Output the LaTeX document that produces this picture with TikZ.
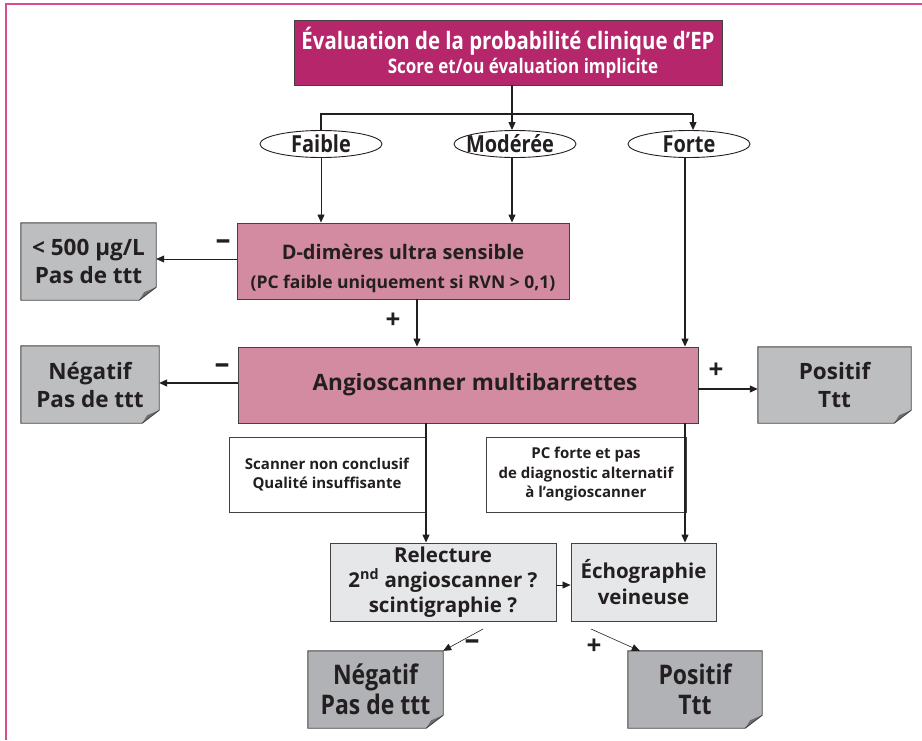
\documentclass[tikz,border=0pt]{standalone}
\usepackage{fontspec}
\setmainfont{Open Sans}
\newfontfamily\cond[FakeStretch=0.85]{Open Sans}
\usetikzlibrary{arrows.meta,calc,shapes.geometric}
\definecolor{framec}{HTML}{D64E8F}
\definecolor{topc}{HTML}{B5266A}
\definecolor{pinkc}{HTML}{D38BA1}
\definecolor{grayc}{HTML}{BCBEC0}
\definecolor{lightc}{HTML}{E6E7E8}
\definecolor{botc}{HTML}{B0B2B5}
\definecolor{inkc}{HTML}{231F20}
\definecolor{foldc}{HTML}{6D6E71}
\newcommand\mkbox[7]{\node[#6, minimum width={(#4-#2)*1pt}, minimum height={(#5-#3)*1pt}] (#1) at ({(#2+#4)/2},{(#3+#5)/2}) {#7};}
\newcommand\foldbox[1]{%
  \fill[white] ($(#1.south east)+(0,-13)$) -- (#1.south east) -- ($(#1.south east)+(-17,0)$) -- cycle;
  \fill[foldc] ($(#1.south east)+(0,-13)$) -- ($(#1.south east)+(-17,0)$) -- ($(#1.south east)+(-12,-8)$) -- cycle;
  \draw[boxline] (#1.north west) -- (#1.north east) -- ($(#1.south east)+(0,-13)$) -- ($(#1.south east)+(-17,0)$) -- (#1.south west) -- cycle;}
\tikzset{
  boxline/.style={draw=inkc!85, line width=0.9pt},
  box/.style={boxline, inner sep=0pt, align=center, font=\bfseries, text=inkc},
  resbox/.style={inner sep=0pt, align=center, font=\bfseries\fontsize{22.5}{28}\selectfont, text=inkc, fill=grayc},
  botbox/.style={inner sep=0pt, align=center, font=\cond\bfseries\fontsize{27}{30}\selectfont, text=inkc, fill=botc},
  oval/.style={ellipse, draw=inkc, line width=0.9pt, inner sep=0pt, minimum width=122pt, minimum height=27pt, font=\cond\bfseries\fontsize{23.5}{23.5}\selectfont, text=inkc, fill=white},
  ln/.style={draw=inkc, line width=1.1pt},
  arr/.style={ln, -{Triangle[length=8pt,width=7pt]}},
  thinarr/.style={draw=inkc, line width=0.6pt, -{Triangle[length=8pt,width=7pt]}},
  minus/.style={font=\bfseries\fontsize{30}{30}\selectfont, text=inkc, inner sep=0pt},
  plus/.style={font=\bfseries\fontsize{26}{26}\selectfont, text=inkc, inner sep=0pt}
}
\begin{document}
\begin{tikzpicture}[x=1pt,y=-1pt]
\useasboundingbox (0,0) rectangle (922,740);
\fill[white] (0,0) rectangle (922,740);
\draw[framec, line width=2pt] (6,740) -- (6,4) -- (922,4);

% top box
\mkbox{top}{294}{20}{722}{85}{box, fill=topc, text=white, font=\cond\bfseries\fontsize{24}{25}\selectfont}{Évaluation de la probabilité clinique d’EP\\[-1pt] \hspace*{30pt}{\fontsize{20}{22}\selectfont Score et/ou évaluation implicite}}

% ovals
\node[oval] (faible) at (321,144) {Faible};
\node[oval] (moderee) at (515,144) {\hspace*{-10pt}Modérée};
\node[oval] (forte) at (689,144) {Forte};

% D-dimeres
\mkbox{dd}{237}{223}{569}{299}{box, fill=pinkc}{\rule{0pt}{30pt}{\fontsize{20}{26}\selectfont D-dimères ultra sensible}\\[15pt] {\fontsize{17.5}{20}\selectfont (PC faible uniquement si RVN > 0,1)}}
\mkbox{low}{21}{223}{156}{300}{resbox}{< 500 µg/L\\Pas de ttt}
\foldbox{low}

% angioscanner
\mkbox{angio}{238}{347}{698}{423}{box, fill=pinkc, font=\bfseries\fontsize{22.5}{26}\selectfont}{\hspace*{14pt}Angioscanner multibarrettes}
\mkbox{neg}{21}{346}{159}{423}{resbox}{Négatif\\Pas de ttt}
\foldbox{neg}
\mkbox{pos}{758}{347}{911}{423}{resbox}{Positif\\Ttt}
\foldbox{pos}

% condition boxes
\mkbox{nc}{229}{437}{425}{512}{box, fill=white, font=\bfseries\fontsize{15}{18.5}\selectfont}{Scanner non conclusif\\Qualité insuffisante}
\mkbox{pcf}{486}{437}{686}{512}{box, fill=white, font=\bfseries\fontsize{15}{19.5}\selectfont}{PC forte et pas\\ de diagnostic alternatif\\à l’angioscanner}

% relecture / echo
\mkbox{rel}{330}{543}{556}{621}{box, fill=lightc, font=\bfseries\fontsize{20.5}{25}\selectfont}{Relecture\\2\textsuperscript{nd} angioscanner ?\\scintigraphie ?}
\mkbox{echo}{571}{543}{716}{621}{box, fill=lightc, font=\bfseries\fontsize{20.5}{26}\selectfont}{Échographie\\veineuse}

% bottom results
\mkbox{neg2}{308}{651}{443}{728}{botbox}{Négatif\\Pas de ttt}
\foldbox{neg2}
\mkbox{pos2}{628}{651}{762}{728}{botbox}{Positif\\Ttt}
\foldbox{pos2}

% connectors top
\coordinate (j) at (512,114);
\coordinate (hl) at (321,114);
\coordinate (hr) at (693,114);
\draw[ln] (top.south -| j) -- (j);
\draw[ln] (faible.north) -- (hl) -- (hr);
\draw[arr] (j) -- (moderee.north -| j);
\draw[arr] (hr) -- (forte.north -| hr);

\draw[thinarr] (faible.south) -- (faible.south |- dd.north);
\coordinate (mx) at (512,0);
\draw[arr] (moderee.south -| mx) -- (dd.north -| mx);
\coordinate (fx) at (685,0);
\draw[arr] (forte.south -| fx) -- (angio.north -| fx);

% dd outputs
\coordinate (ddy) at (0,259);
\draw[thinarr] (dd.west |- ddy) -- (low.east |- ddy);
\node[minus] (m1) at (223,245) {–};
\coordinate (ddx) at (417,0);
\draw[arr] (dd.south -| ddx) -- (angio.north -| ddx);
\node[plus] (p1) at (393,321) {+};

% angio outputs
\coordinate (ay) at (0,383);
\draw[arr] (angio.west |- ay) -- (neg.east |- ay);
\node[minus] (m2) at (222,369) {–};
\coordinate (by) at (0,389);
\draw[arr] (angio.east |- by) -- (pos.west |- by);
\node[plus] (p2) at (716,371) {+};

\coordinate (cx) at (426,0);
\draw[arr] (angio.south -| cx) -- (rel.north -| cx);
\coordinate (dx) at (685,0);
\draw[arr] (angio.south -| dx) -- (echo.north -| dx);

\coordinate (ry) at (0,585);
\draw[thinarr] (rel.east |- ry) -- (echo.west |- ry);

% bottom diagonals
\coordinate (s1) at (483,629);
\draw[thinarr] (s1) -- (neg2.north east);
\node[minus] (m3) at (472,645) {–};
\coordinate (s2) at (591,629);
\draw[thinarr] (s2) -- ($(pos2.north west)+(12,0)$);
\node[plus] (p3) at (594,647) {+};
\end{tikzpicture}
\end{document}
